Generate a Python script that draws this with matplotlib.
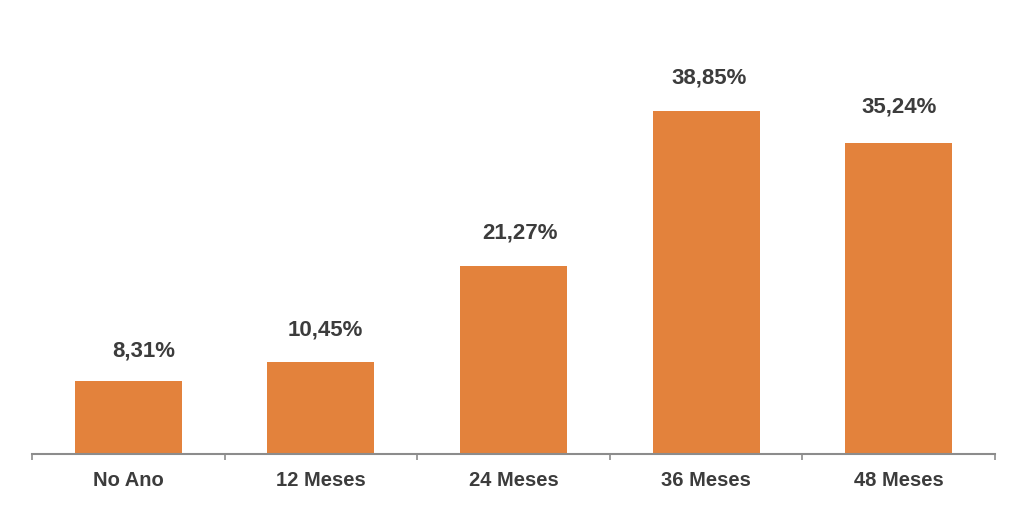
import numpy as np
import matplotlib
matplotlib.use("Agg")
from matplotlib import pyplot as plt

# Dados
categorias = ["No Ano", "12 Meses", "24 Meses", "36 Meses", "48 Meses"]
valores = [8.31, 10.45, 21.27, 38.85, 35.24]
rotulos = ["8,31%", "10,45%", "21,27%", "38,85%", "35,24%"]

bar_color = '#E3823C'
text_color = '#3C3C3C'
axis_color = '#8C8C8C'

plt.rcParams['font.family'] = ['Liberation Sans', 'DejaVu Sans']

fig = plt.figure(figsize=(10.17, 5.11), dpi=100, facecolor='white')
ax = fig.add_axes([32/1017, 1 - 454/511, 963/1017, 434/511])

x = np.arange(len(categorias))
bars = ax.bar(x, valores, width=0.555, color=bar_color)

# deslocamento horizontal dos rotulos (em pontos), como no original
desloc = [11, 3, 5, 2, 0]
dy = [21, 23, 24, 24, 26]
for b, txt, dx, yy in zip(bars, rotulos, desloc, dy):
    ax.annotate(txt, (b.get_x() + b.get_width()/2, b.get_height()),
                xytext=(dx, yy), textcoords='offset points',
                ha='center', va='center', fontsize=16, fontweight='bold',
                color=text_color)

ax.set_xlim(-0.5, len(categorias) - 0.5)
ax.set_ylim(0, 434/8.83)

ax.set_xticks(x)
ax.set_xticklabels(categorias, fontsize=14.5, fontweight='bold', color=text_color)
ax.tick_params(axis='x', which='major', length=0, pad=12)
ax.set_xticks(np.arange(-0.5, len(categorias)), minor=True)
ax.tick_params(axis='x', which='minor', length=4, width=1.2, color=axis_color, direction='out')

ax.set_yticks([])
for s in ['top', 'right', 'left']:
    ax.spines[s].set_visible(False)
ax.spines['bottom'].set_color(axis_color)
ax.spines['bottom'].set_linewidth(1.5)

fig.savefig('out.png', dpi=100, facecolor='white')
